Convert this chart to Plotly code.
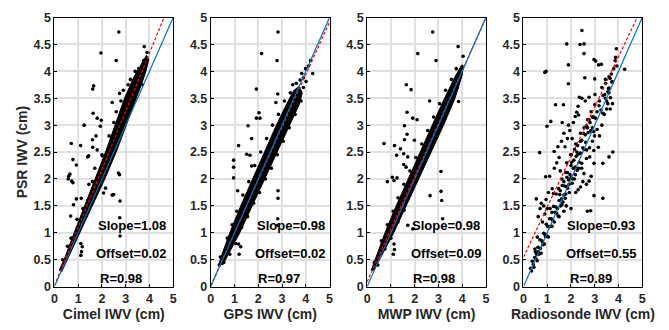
import plotly.graph_objects as go

# ---------------- data ----------------
x_titles = ["Cimel IWV (cm)", "GPS IWV (cm)", "MWP IWV (cm)", "Radiosonde IWV (cm)"]
y_title = "PSR IWV (cm)"
slopes = [1.08, 0.98, 0.98, 0.93]
offsets = [0.02, 0.02, 0.09, 0.55]
r_values = [0.98, 0.97, 0.98, 0.89]
x_ticks = [0, 1, 2, 3, 4, 5]
y_ticks = [0, 0.5, 1, 1.5, 2, 2.5, 3, 3.5, 4, 4.5, 5]

# outlines of the solid (saturated) point clouds, panels 1-3
cimel_band_x = [0.2, 0.45, 0.83, 1.27, 1.72, 2.15, 2.55, 2.95, 3.35, 3.65, 3.88,
                3.97, 3.85, 3.7, 3.45, 3.05, 2.6, 2.12, 1.6, 1.07, 0.55, 0.3]
cimel_band_y = [0.3, 0.55, 1.0, 1.5, 2.0, 2.5, 3.0, 3.5, 3.9, 4.12, 4.3,
                4.22, 4.0, 3.8, 3.5, 3.0, 2.5, 2.0, 1.5, 1.0, 0.5, 0.27]
gps_band_x = [0.33, 0.47, 0.8, 1.26, 1.76, 2.26, 2.76, 3.2, 3.5, 3.72,
              3.85, 3.74, 3.32, 2.8, 2.3, 1.76, 1.22, 0.74, 0.5]
gps_band_y = [0.4, 0.6, 1.0, 1.5, 2.0, 2.5, 3.0, 3.4, 3.65, 3.72,
              3.6, 3.4, 3.0, 2.5, 2.0, 1.5, 1.0, 0.6, 0.4]
mwp_band_x = [0.17, 0.33, 0.75, 1.22, 1.72, 2.22, 2.74, 3.26, 3.7, 3.98,
              4.06, 3.98, 3.7, 3.22, 2.7, 2.18, 1.66, 1.12, 0.52, 0.28]
mwp_band_y = [0.3, 0.5, 1.0, 1.5, 2.0, 2.5, 3.0, 3.5, 3.9, 4.12,
              4.1, 3.9, 3.5, 3.0, 2.5, 2.0, 1.5, 1.0, 0.5, 0.3]

cimel_x = [2.71, 3.78, 1.96, 2.6, 1.65, 1.61, 2.43, 2.74, 1.63, 1.8, 1.97, 1.25, 1.93,
           1.75, 1.6, 0.71, 1.1, 1.61, 1.8, 0.78, 0.92, 1.44, 1.4, 2.01, 0.65, 0.6,
           0.58, 0.78, 0.73, 0.68, 1.13, 0.92, 0.8, 2.75, 2.76, 2.69, 2.74, 2.43, 2.76,
           2.15, 2.07, 2.49, 1.58, 1.11, 1.17, 1.14, 1.11,
           0.35, 0.55, 0.7, 0.95, 1.1, 1.2, 1.4, 1.45, 1.6, 1.7, 1.9, 2.0, 2.2, 2.3,
           2.45, 2.5, 2.6, 2.7, 2.8, 2.9, 3.0, 3.1, 3.2, 3.25, 3.4, 3.5, 3.55, 3.7,
           3.75, 3.9]
cimel_y = [4.73, 4.46, 4.34, 4.2, 3.73, 3.67, 3.42, 3.59, 3.22, 3.13, 3.09, 3.0, 2.98,
           2.8, 2.73, 2.66, 2.62, 2.59, 2.54, 2.36, 2.26, 2.43, 2.41, 2.43, 2.09, 2.05,
           2.0, 1.93, 1.96, 1.31, 1.64, 1.63, 1.52, 1.28, 0.94, 2.11, 2.08, 1.7, 1.59,
           1.83, 1.74, 1.71, 1.76, 0.8, 0.74, 0.65, 0.58,
           0.5, 0.75, 0.9, 1.25, 1.1, 1.45, 1.6, 1.9, 1.95, 2.2, 2.1, 2.45, 2.4, 2.8,
           2.65, 3.05, 3.25, 2.85, 3.45, 3.65, 3.15, 3.75, 3.85, 3.4, 4.0, 3.7, 4.05,
           3.75, 4.2, 4.35]

gps_x = [2.83, 2.14, 2.79, 1.92, 2.82, 2.03, 1.92, 2.07, 1.57, 2.74, 1.72, 1.17, 1.51,
         1.65, 0.96, 0.96, 1.72, 0.96, 1.13, 2.83, 2.83, 2.82, 2.82, 1.17, 1.26, 1.19,
         4.29, 4.01, 3.76, 3.9, 4.11, 3.99, 3.83, 4.2, 0.5, 0.36, 0.64,
         0.4, 0.55, 0.7, 0.8, 0.9, 1.05, 1.1, 1.3, 1.35, 1.55, 1.6, 1.8, 1.85, 2.05,
         2.1, 2.3, 2.35, 2.55, 2.6, 2.8, 2.85, 3.05, 3.1, 3.3, 3.35, 3.55, 3.6, 3.8,
         3.9, 3.45]
gps_y = [4.73, 4.33, 4.2, 3.67, 3.58, 3.23, 3.13, 3.13, 2.99, 3.42, 2.75, 2.62, 2.46,
         2.44, 2.35, 2.22, 2.24, 2.02, 1.78, 1.78, 1.64, 1.26, 1.14, 0.79, 0.74, 0.6,
         3.96, 3.81, 3.84, 3.88, 4.1, 4.05, 3.96, 4.2, 0.5, 0.4, 0.66,
         0.55, 0.45, 0.9, 0.6, 1.15, 0.8, 1.4, 1.1, 1.7, 1.3, 1.95, 1.55, 2.25, 1.75,
         2.5, 2.0, 2.75, 2.2, 3.0, 2.45, 3.2, 2.7, 3.45, 2.95, 3.6, 3.2, 3.78, 3.45,
         3.7, 3.75]

mwp_x = [2.76, 2.13, 2.9, 3.83, 4.04, 1.65, 1.85, 2.63, 1.68, 1.92, 2.1, 1.57, 0.71,
         1.15, 1.4, 1.57, 1.68, 1.99, 1.24, 1.54, 1.71, 0.85, 1.06, 1.13, 1.26, 1.54,
         1.64, 3.11, 3.11, 3.14, 2.65, 3.18, 1.71, 1.92, 1.13, 1.15, 1.1, 3.85,
         0.3, 0.45, 0.6, 0.75, 0.85, 1.0, 1.1, 1.3, 1.3, 1.55, 1.55, 1.8, 1.8, 2.05,
         2.05, 2.3, 2.3, 2.55, 2.55, 2.8, 2.8, 3.05, 3.05, 3.3, 3.3, 3.55, 3.55, 3.8,
         3.75, 3.95]
mwp_y = [4.73, 4.33, 4.2, 4.46, 4.28, 3.75, 3.66, 3.45, 3.24, 3.13, 3.1, 2.99, 2.66,
         2.62, 2.56, 2.73, 2.83, 2.72, 2.44, 2.47, 2.41, 1.95, 2.03, 1.97, 2.02, 2.27,
         2.22, 2.14, 1.77, 1.6, 1.69, 1.26, 1.14, 1.07, 0.79, 0.69, 0.6, 3.44,
         0.45, 0.4, 0.85, 0.7, 1.15, 0.9, 1.4, 1.2, 1.65, 1.42, 1.9, 1.7, 2.15, 1.95,
         2.4, 2.2, 2.65, 2.45, 2.9, 2.7, 3.15, 2.95, 3.4, 3.2, 3.65, 3.45, 3.85, 3.7,
         4.05, 3.95]

sonde_x = [0.3, 0.34, 0.37, 0.41, 0.44, 0.47, 0.5, 0.53, 0.55, 0.58, 0.61, 0.63, 0.66,
           0.69, 0.71, 0.74, 0.77, 0.8, 0.82, 0.85, 0.88, 0.91, 0.93, 0.96, 0.99, 1.02,
           1.05, 1.07, 1.1, 1.14, 1.17, 1.2, 1.23, 1.27, 1.3, 1.33, 1.36, 1.4, 1.43,
           1.46, 1.5, 1.53, 1.56, 1.6, 1.63, 1.66, 1.7, 1.73, 1.76, 1.8, 1.83, 1.86,
           1.9, 1.93, 1.96, 2.0, 2.03, 2.07, 2.1, 2.14, 2.18, 2.22, 2.26, 2.3, 2.35,
           2.4, 2.45, 2.5, 2.55, 2.6, 2.66, 2.72, 2.78, 2.84, 2.9, 2.96, 3.03, 3.1,
           3.18, 3.26, 3.34, 3.42, 3.5, 3.58, 3.66, 3.72,
           1.55, 1.62, 1.7, 1.78, 1.85, 1.92, 2.0, 2.05, 2.12, 2.18, 2.25, 2.32, 2.4,
           2.15, 2.28, 1.98, 2.45, 2.52, 2.62, 2.7, 2.8, 2.95, 3.1, 3.2, 3.35, 3.3,
           3.45, 3.55, 3.6, 3.0,
           0.54, 0.68, 0.93, 1.15, 0.99, 1.35, 1.68, 1.29, 1.21, 1.26, 0.75, 0.7, 0.62,
           0.85, 0.95, 1.05, 0.8, 0.9, 1.0, 1.1, 1.4, 1.5, 1.45, 1.6, 1.7, 1.75, 1.85,
           1.95, 2.05, 1.9, 1.63, 2.18, 2.24, 2.32, 2.35, 2.46, 2.6, 2.76, 3.01, 2.58,
           1.89, 3.0, 1.3, 1.55, 2.1, 2.3, 0.48, 0.58, 1.12, 1.38, 1.62, 1.82, 2.02,
           2.2, 2.4, 2.55, 2.7, 2.85, 1.2, 1.48, 1.78,
           2.69, 2.83, 2.97, 3.34, 2.97, 3.34, 2.65, 2.79, 2.96, 3.15, 3.6, 3.76, 2.65,
           2.5, 2.4, 2.3, 2.2, 2.0, 2.76, 2.85, 2.55, 2.45, 3.2, 3.3, 3.4, 3.5, 3.55,
           3.45, 3.6, 3.65, 3.75, 2.9, 2.85, 2.99, 2.76, 2.65, 2.9, 1.7, 1.5, 1.8,
           2.46, 1.82, 2.38, 2.55, 2.55, 3.91, 1.89, 0.95, 0.9, 2.97, 3.04, 3.16, 3.28,
           3.88, 3.86, 3.93, 4.26, 3.65, 3.74, 3.6, 3.46, 3.7, 3.8]
sonde_y = [0.34, 0.29, 0.47, 0.41, 0.36, 0.54, 0.65, 0.51, 0.6, 0.48, 0.73, 0.65, 0.6,
           0.87, 0.71, 0.62, 0.85, 0.83, 0.78, 0.99, 0.79, 0.97, 0.93, 1.16, 0.94, 1.12,
           0.92, 1.11, 1.26, 1.12, 1.26, 1.12, 1.23, 1.49, 1.2, 1.38, 1.48, 1.36, 1.45,
           1.31, 1.6, 1.71, 1.5, 1.63, 1.88, 1.57, 1.7, 1.87, 1.64, 1.86, 2.03, 1.83,
           1.98, 1.75, 2.08, 2.02, 2.31, 2.0, 2.2, 2.0, 2.22, 2.42, 2.16, 2.46, 2.31,
           2.7, 2.29, 2.58, 2.55, 2.82, 2.54, 2.86, 2.58, 2.9, 3.15, 2.88, 3.13, 2.92,
           3.36, 3.28, 3.22, 3.57, 3.45, 3.68, 3.51, 3.8,
           1.78, 1.52, 1.95, 1.72, 2.12, 1.9, 2.25, 1.92, 2.35, 2.08, 2.5, 2.2, 2.48,
           2.55, 2.62, 2.45, 2.72, 2.85, 2.68, 2.95, 3.05, 3.15, 3.25, 3.45, 3.55, 3.7,
           3.85, 3.62, 3.9, 3.38,
           1.63, 2.49, 2.04, 3.07, 2.98, 3.38, 3.38, 2.51, 1.82, 1.73, 1.55, 1.45, 1.3,
           1.5, 1.62, 1.75, 1.2, 1.35, 1.45, 2.05, 2.3, 2.4, 2.6, 2.7, 2.85, 2.6, 2.75,
           2.9, 2.75, 3.0, 3.05, 3.16, 3.24, 3.19, 3.52, 3.5, 3.45, 3.52, 3.57, 3.88,
           3.77, 3.86, 2.2, 2.15, 3.05, 3.35, 0.7, 0.92, 1.45, 1.72, 2.0, 2.3, 2.45,
           2.65, 2.85, 2.95, 3.1, 3.25, 1.38, 1.82, 2.12,
           1.4, 1.41, 1.69, 1.64, 2.29, 2.29, 2.38, 2.41, 2.53, 2.59, 2.41, 2.5, 1.9,
           1.95, 1.85, 1.8, 1.75, 1.45, 1.96, 2.05, 2.1, 2.2, 2.8, 3.0, 3.2, 3.3, 3.4,
           3.5, 3.6, 3.3, 3.4, 2.7, 2.89, 2.8, 3.1, 2.99, 2.95, 1.4, 1.3, 1.5,
           4.76, 4.51, 4.5, 4.51, 4.33, 4.42, 4.12, 4.0, 3.98, 4.22, 4.19, 4.12, 4.13,
           4.26, 4.2, 4.1, 4.04, 3.87, 3.81, 3.69, 3.78, 3.95, 4.05]

bands = [(cimel_band_x, cimel_band_y), (gps_band_x, gps_band_y),
         (mwp_band_x, mwp_band_y), None]
points = [(cimel_x, cimel_y), (gps_x, gps_y), (mwp_x, mwp_y), (sonde_x, sonde_y)]
text_x = [(1.78, 1.72, 1.86), (1.9, 1.8, 1.95), (1.84, 1.8, 1.9), (1.8, 1.73, 1.9)]
text_y = [1.13, 0.62, 0.15]

# ---------------- layout geometry ----------------
W, H = 669, 330
x_px = [(52, 172), (210, 330), (368, 488), (526, 646)]
y_top, y_bot = 11, 292

FONT = "Liberation Sans, Arial, sans-serif"
BLUE = "#0072BD"
fig = go.Figure()

for i in range(4):
    xa = "x" if i == 0 else f"x{i+1}"
    ya = "y" if i == 0 else f"y{i+1}"
    if bands[i] is not None:
        bx, by = bands[i]
        fig.add_trace(go.Scatter(x=bx, y=by, mode="lines", fill="toself",
                                 fillcolor="black", line=dict(color="black", width=1),
                                 hoverinfo="skip", showlegend=False, xaxis=xa, yaxis=ya))
    px_, py_ = points[i]
    fig.add_trace(go.Scatter(x=px_, y=py_, mode="markers",
                             marker=dict(color="black", size=3.6, line=dict(width=0)),
                             showlegend=False, xaxis=xa, yaxis=ya))
    fx = [0, 5]
    fy = [slopes[i] * v + offsets[i] for v in fx]
    fig.add_trace(go.Scatter(x=fx, y=fy, mode="lines",
                             line=dict(color="red", width=1.2, dash="3px,2px"),
                             showlegend=False, xaxis=xa, yaxis=ya))
    fig.add_trace(go.Scatter(x=[0, 5], y=[0, 5], mode="lines",
                             line=dict(color=BLUE, width=1.2),
                             showlegend=False, xaxis=xa, yaxis=ya))

    labels = [f"Slope={slopes[i]:.2f}", f"Offset={offsets[i]:.2f}", f"R={r_values[i]:.2f}"]
    for k in range(3):
        fig.add_annotation(x=text_x[i][k], y=text_y[k], xref=xa, yref=ya, text=labels[k],
                           showarrow=False, xanchor="left", yanchor="middle",
                           borderpad=0,
                           font=dict(family=FONT, size=13, color="black", weight="bold"))

    axis_common = dict(showline=True, linecolor="black", linewidth=1, mirror=True,
                       showgrid=True, gridcolor="#e0e0e0", gridwidth=1.5,
                       ticks="inside", ticklen=3, tickcolor="black", tickwidth=1,
                       zeroline=False, fixedrange=True,
                       tickfont=dict(family=FONT, size=12.5, color="#262626", weight="bold"))
    xkey = "xaxis" if i == 0 else f"xaxis{i+1}"
    ykey = "yaxis" if i == 0 else f"yaxis{i+1}"
    fig.layout[xkey] = dict(axis_common, range=[0, 5], tickvals=x_ticks,
                            domain=[x_px[i][0] / W, x_px[i][1] / W], anchor=ya,
                            title=dict(text=x_titles[i], standoff=4,
                                       font=dict(family=FONT, size=14, color="#262626", weight="bold")))
    fig.layout[ykey] = dict(axis_common, range=[0, 5], tickvals=y_ticks,
                            domain=[1 - y_bot / H, 1 - y_top / H], anchor=xa)
    if i == 0:
        fig.layout[ykey].title = dict(text=y_title, standoff=2,
                                      font=dict(family=FONT, size=14, color="#262626", weight="bold"))

fig.update_layout(width=W, height=H, autosize=False,
                  margin=dict(l=0, r=0, t=0, b=0),
                  paper_bgcolor="white", plot_bgcolor="white")

fig.write_html("out.html")
